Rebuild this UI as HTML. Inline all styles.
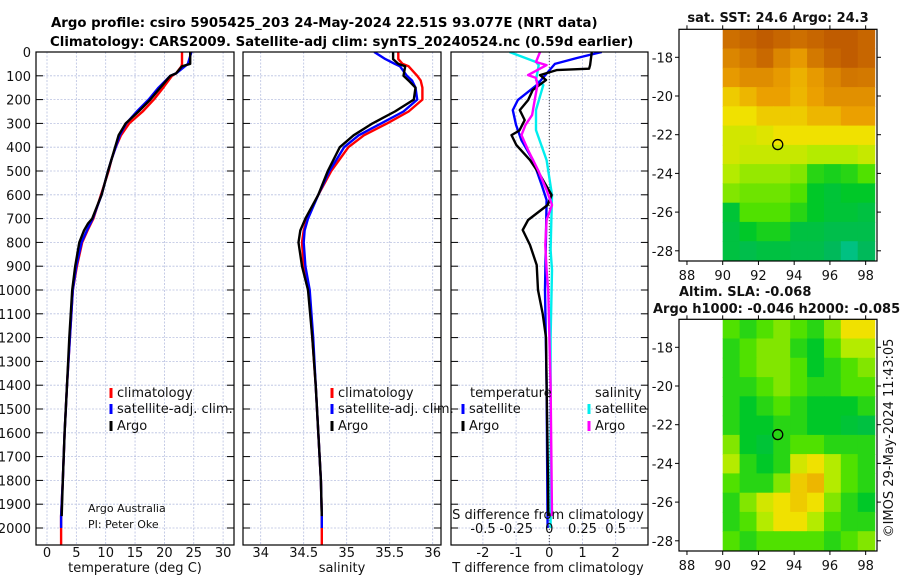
<!DOCTYPE html>
<html><head><meta charset="utf-8"><style>
html,body{margin:0;padding:0;background:#fff;}
svg{display:block;font-family:"DejaVu Sans","Liberation Sans",sans-serif;}
</style></head><body>
<svg id="fig" width="900" height="580" viewBox="0 0 900 580" xmlns="http://www.w3.org/2000/svg">
<text x="51" y="27" text-anchor="start" font-size="13.3" font-weight="bold">Argo profile: csiro 5905425_203 24-May-2024 22.51S 93.077E (NRT data)</text>
<text x="50" y="46" text-anchor="start" font-size="13.3" font-weight="bold">Climatology: CARS2009. Satellite-adj clim: synTS_20240524.nc (0.59d earlier)</text>
<g id="g"></g>
</svg>
<script>
// ---------- data ----------
const depthTicks=[0,100,200,300,400,500,600,700,800,900,1000,1100,1200,1300,1400,1500,1600,1700,1800,1900,2000];
const tempTicks=[0,5,10,15,20,25,30];
const salTicks=[34,34.5,35,35.5,36];
const salTickLabels=["34","34.5","35","35.5","36"];
const tdTicks=[-2,-1,0,1,2];
const sdTicks=[-0.5,-0.25,0,0.25,0.5];
const sdTickLabels=["-0.5","-0.25","0","0.25","0.5"];

const tDepth=[0,50,60,90,100,150,200,250,300,350,400,450,500,600,700,720,750,800,900,1000,1200,1400,1600,1800,1950];
const tArgo=[24.4,24.4,23.0,22.0,21.0,19.3,17.6,15.6,13.4,12.2,11.6,11.0,10.4,9.3,7.7,7.0,6.3,5.5,4.8,4.3,3.8,3.4,3.0,2.7,2.5];
const tClim=[23,23,22.9,22,21.3,19.8,18.2,16.3,14.0,12.6,11.7,11.0,10.5,9.2,7.9,7.5,6.9,6.0,5.1,4.4,3.9,3.4,3.0,2.7,2.4];
const tSat=[24.6,24,23.5,22,21,19,17.3,15.3,13.5,12.4,11.7,11.0,10.4,9.3,7.8,7.4,6.8,5.9,5.0,4.4,3.9,3.4,3.0,2.7,2.4];

const sDepth=[0,30,50,60,100,120,150,200,250,300,350,400,500,600,700,750,800,900,1000,1200,1400,1600,1800,1950];
const sArgo=[35.54,35.54,35.6,35.68,35.66,35.72,35.8,35.78,35.56,35.3,35.08,34.92,34.78,34.67,34.52,34.46,34.44,34.48,34.55,34.6,34.64,34.67,34.7,34.71];
const sClim=[35.6,35.6,35.65,35.72,35.82,35.86,35.88,35.88,35.72,35.47,35.2,35.02,34.82,34.67,34.54,34.5,34.48,34.5,34.56,34.6,34.64,34.67,34.7,34.71];
const sSat=[35.32,35.45,35.56,35.62,35.7,35.76,35.8,35.82,35.66,35.4,35.14,34.97,34.8,34.67,34.55,34.51,34.5,34.52,34.57,34.61,34.64,34.67,34.7,34.71];

const tdArgoDepth=[0,55,70,76,97,118,160,202,244,286,330,349,391,454,517,601,643,706,748,811,895,1000,1100,1200,1400,1600,1800,1950];
const tdArgo=[1.28,1.23,1.2,0.22,-0.28,-0.1,-0.5,-0.64,-0.89,-0.74,-0.9,-1.14,-0.99,-0.58,-0.28,0.07,-0.05,-0.64,-0.8,-0.58,-0.38,-0.34,-0.2,-0.1,-0.08,-0.06,-0.04,-0.03];
const tdSatDepth=[0,25,50,139,202,244,307,370,454,559,622,1000,1400,2000];
const tdSat=[1.58,0.83,0.17,-0.38,-0.95,-1.1,-1.0,-0.84,-0.49,-0.23,-0.08,-0.13,-0.08,-0.05];
const sdSatDepth=[0,42,55,118,139,244,328,454,601,832,916,1200,1600,2000];
const sdSat=[-0.3,-0.1,-0.08,-0.1,-0.045,-0.1,-0.1,-0.02,0.02,0.01,0.02,0.01,0.01,0.01];
const sdArgoDepth=[0,42,55,97,109,139,202,265,307,349,412,496,580,643,706,811,916,1000,1400,1950];
const sdArgo=[-0.07,-0.1,-0.02,-0.16,-0.1,-0.09,-0.11,-0.13,-0.18,-0.21,-0.16,-0.085,-0.02,0.02,-0.02,-0.03,-0.02,-0.008,0.01,0.02];

const lonTicks=[88,90,92,94,96,98];
const latTicks=[-18,-20,-22,-24,-26,-28];
const argoLon=93.08, argoLat=-22.51;
const sstGrid=[
[0.85,0.88,0.92,0.88,0.85,0.88,0.92,0.92,0.88],
[0.78,0.82,0.87,0.78,0.72,0.82,0.88,0.92,0.88],
[0.72,0.76,0.76,0.72,0.66,0.72,0.78,0.83,0.82],
[0.6,0.65,0.7,0.7,0.65,0.7,0.75,0.75,0.75],
[0.55,0.55,0.6,0.6,0.6,0.65,0.65,0.7,0.7],
[0.5,0.5,0.52,0.55,0.55,0.55,0.55,0.55,0.55],
[0.5,0.48,0.48,0.48,0.48,0.45,0.45,0.45,0.48],
[0.45,0.42,0.42,0.42,0.4,0.3,0.28,0.3,0.35],
[0.4,0.38,0.38,0.38,0.35,0.25,0.22,0.25,0.25],
[0.22,0.35,0.35,0.35,0.3,0.25,0.22,0.22,0.2],
[0.2,0.25,0.28,0.28,0.2,0.2,0.18,0.18,0.18],
[0.2,0.18,0.2,0.2,0.18,0.18,0.15,0.1,0.15]];
const slaGrid=[
[0.35,0.3,0.35,0.4,0.35,0.3,0.4,0.55,0.55],
[0.3,0.35,0.4,0.4,0.3,0.25,0.35,0.45,0.45],
[0.3,0.35,0.4,0.4,0.35,0.25,0.3,0.35,0.4],
[0.3,0.3,0.35,0.4,0.35,0.3,0.3,0.35,0.35],
[0.3,0.25,0.3,0.35,0.3,0.25,0.25,0.25,0.3],
[0.3,0.25,0.25,0.3,0.3,0.25,0.25,0.22,0.2],
[0.4,0.25,0.22,0.3,0.35,0.35,0.3,0.3,0.3],
[0.45,0.3,0.25,0.3,0.5,0.55,0.45,0.35,0.3],
[0.35,0.3,0.3,0.4,0.6,0.65,0.45,0.35,0.3],
[0.3,0.4,0.5,0.55,0.6,0.55,0.4,0.3,0.25],
[0.3,0.35,0.45,0.55,0.55,0.45,0.35,0.3,0.3],
[0.35,0.3,0.35,0.35,0.35,0.35,0.3,0.35,0.4]];

// ---------- drawing ----------
const NS="http://www.w3.org/2000/svg";
const G=document.getElementById('g');
function el(tag,attrs,parent){const e=document.createElementNS(NS,tag);for(const k in attrs)e.setAttribute(k,attrs[k]);(parent||G).appendChild(e);return e;}
function txt(x,y,s,size,anchor,parent){const t=el('text',{x:x,y:y,'font-size':size,'text-anchor':anchor||'middle',fill:'#111'},parent);t.textContent=s;return t;}

const TOP=52, BOT=545;
const yD=d=>TOP+d*0.238;
const panels=[{l:36,r:234},{l:243,r:441},{l:451,r:648}];
const xT=v=>47+v*5.87;
const xS=v=>260.7+(v-34)*86;
const xTD=v=>549.3+v*33.2;
const xSD=v=>549.3+v*132.6;

function panelFrame(p,name,xticks,xf,labels){
  const g=el('g',{});
  
  
  depthTicks.forEach(d=>{el('line',{x1:p.l,x2:p.r,y1:yD(d),y2:yD(d),stroke:'#b8c0e0','stroke-width':0.8,'stroke-dasharray':'2,1.5'},g);});
  xticks.forEach(v=>{el('line',{x1:xf(v),x2:xf(v),y1:TOP,y2:BOT,stroke:'#b8c0e0','stroke-width':0.8,'stroke-dasharray':'2,1.5'},g);});
  depthTicks.forEach(d=>{el('line',{x1:p.l,x2:p.l+7,y1:yD(d),y2:yD(d),stroke:'#000'},g);el('line',{x1:p.r-7,x2:p.r,y1:yD(d),y2:yD(d),stroke:'#000'},g);});
  xticks.forEach((v,i)=>{txt(xf(v),557,labels?labels[i]:String(v),13,'middle',g);});
  return g;
}
function frameRect(p){const r=el('rect',{x:p.l,y:TOP,width:p.r-p.l,height:BOT-TOP,fill:'none',stroke:'#000','stroke-width':1.2});}
function series(depths,vals,xf,color,name,clipId){
  const pts=depths.map((d,i)=>xf(vals[i]).toFixed(1)+','+yD(d).toFixed(1)).join(' ');
  const pl=el('polyline',{points:pts,fill:'none',stroke:color,'stroke-width':2.4,'stroke-linejoin':'round','clip-path':'url(#'+clipId+')'});
  
  
}
const defs=el('defs',{});
panels.forEach((p,i)=>{const c=el('clipPath',{id:'c'+i},defs);el('rect',{x:p.l,y:TOP,width:p.r-p.l,height:BOT-TOP},c);});

depthTicks.forEach(d=>{const t=txt(31,yD(d)+5,String(d),13,'end');});

panelFrame(panels[0],'temperature-panel',tempTicks,xT);
series(tDepth.concat([2000,2070]),tClim.concat([2.4,2.4]),xT,'#ff0000','temp-climatology-line','c0');
series(tDepth.concat([2000]),tSat.concat([2.4]),xT,'#0000ff','temp-satellite-line','c0');
series(tDepth,tArgo,xT,'#000000','temp-argo-line','c0');
frameRect(panels[0]);
txt(135,572,'temperature (deg C)',13);

panelFrame(panels[1],'salinity-panel',salTicks,xS,salTickLabels);
series(sDepth.concat([2000,2070]),sClim.concat([34.71,34.71]),xS,'#ff0000','sal-climatology-line','c1');
series(sDepth.concat([2000]),sSat.concat([34.71]),xS,'#0000ff','sal-satellite-line','c1');
series(sDepth,sArgo,xS,'#000000','sal-argo-line','c1');
frameRect(panels[1]);
txt(342,572,'salinity',13);

panelFrame(panels[2],'difference-panel',tdTicks,xTD);
el('line',{x1:xTD(0),x2:xTD(0),y1:TOP,y2:BOT,stroke:'#444','stroke-width':1,'stroke-dasharray':'1,2'});
series(sdSatDepth,sdSat,xSD,'#00eeee','sal-diff-satellite-line','c2');
series(tdSatDepth,tdSat,xTD,'#0000ff','temp-diff-satellite-line','c2');
series(tdArgoDepth,tdArgo,xTD,'#000000','temp-diff-argo-line','c2');
series(sdArgoDepth,sdArgo,xSD,'#ff00ff','sal-diff-argo-line','c2');
frameRect(panels[2]);
txt(548,572,'T difference from climatology',13);
txt(548,519,'S difference from climatology',13);
sdTicks.forEach((v,i)=>{txt(xSD(v),533,sdTickLabels[i],13);});

function legend(x,y,color,label,name){
  const g=el('g',{});
  el('line',{x1:x,x2:x,y1:y-9,y2:y+1,stroke:color,'stroke-width':3},g);
  txt(x+6,y,label,13,'start',g);
}
legend(111,397,'#ff0000','climatology','legend-climatology');
legend(111,413,'#0000ff','satellite-adj. clim.','legend-satellite-adj');
legend(111,430,'#000000','Argo','legend-argo');
legend(332,397,'#ff0000','climatology','legend-climatology-2');
legend(332,413,'#0000ff','satellite-adj. clim.','legend-satellite-adj-2');
legend(332,430,'#000000','Argo','legend-argo-2');
txt(470,397,'temperature',13,'start');
legend(463,413,'#0000ff','satellite','legend-temp-satellite');
legend(463,430,'#000000','Argo','legend-temp-argo');
txt(595,397,'salinity',13,'start');
legend(589,413,'#00eeee','satellite','legend-sal-satellite');
legend(589,430,'#ff00ff','Argo','legend-sal-argo');
txt(88,512,'Argo Australia',11,'start');
txt(88,528,'PI: Peter Oke',11,'start');

function cmap(v){
  const stops=[[0,[0,210,210]],[0.15,[0,185,90]],[0.25,[0,200,40]],[0.35,[80,225,0]],[0.45,[180,235,0]],[0.55,[240,225,0]],[0.7,[235,160,0]],[0.9,[195,95,0]],[1,[180,80,0]]];
  for(let i=1;i<stops.length;i++){if(v<=stops[i][0]){const a=stops[i-1],b=stops[i],f=(v-a[0])/(b[0]-a[0]);return 'rgb('+a[1].map((c,k)=>Math.round(c+(b[1][k]-c)*f)).join(',')+')';}}
  return 'rgb(180,80,0)';
}
function drawMap(top,bottom,grid,name){
  const L=679,R=877;
  const xL=lon=>722.7+(lon-90)*17.87;
  const lat18=top+28;
  const yL=lat=>lat18+(-18-lat)*19.35;
  const g=el('g',{});
  const nr=grid.length,nc=grid[0].length;
  const lon0=90,lon1=98.5,latTop=-16.55,latBot=-28.5;
  const cw=(lon1-lon0)/nc,ch=(latTop-latBot)/nr;
  grid.forEach((row,i)=>row.forEach((v,j)=>{
    const x0=xL(lon0+j*cw),x1=xL(lon0+(j+1)*cw),y0=yL(latTop-i*ch),y1=yL(latTop-(i+1)*ch);
    const r=el('rect',{x:x0.toFixed(1),y:y0.toFixed(1),width:(x1-x0+0.6).toFixed(1),height:(y1-y0+0.6).toFixed(1),fill:cmap(v)},g);
    
    
  }));
  el('rect',{x:L,y:top,width:R-L,height:bottom-top,fill:'none',stroke:'#000','stroke-width':1.2},g);
  latTicks.forEach(v=>{el('line',{x1:L-4,x2:L,y1:yL(v),y2:yL(v),stroke:'#000'},g);el('line',{x1:R,x2:R+4,y1:yL(v),y2:yL(v),stroke:'#000'},g);txt(L-6,yL(v)+5,String(v),13,'end',g);});
  lonTicks.forEach(v=>{el('line',{x1:xL(v),x2:xL(v),y1:bottom,y2:bottom+4,stroke:'#000'},g);el('line',{x1:xL(v),x2:xL(v),y1:top-4,y2:top,stroke:'#000'},g);txt(xL(v),bottom+19,String(v),13,'middle',g);});
  const c=el('circle',{cx:xL(argoLon),cy:yL(argoLat),r:5,fill:'none',stroke:'#000','stroke-width':1.3},g);
  
  
}
drawMap(29.3,261,sstGrid,'sst-map');
txt(778,22,'sat. SST: 24.6 Argo: 24.3',13).setAttribute('font-weight','bold');
drawMap(319.3,551,slaGrid,'sla-map');
const s1=txt(679,296,'Altim. SLA: -0.068',13,'start');s1.setAttribute('font-weight','bold');
const s2=txt(653,313,'Argo h1000: -0.046 h2000: -0.085',13,'start');s2.setAttribute('font-weight','bold');
const cp=txt(0,0,'©IMOS 29-May-2024 11:43:05',13,'middle');
cp.setAttribute('transform','translate(893,438) rotate(-90)');


</script>
</body></html>
